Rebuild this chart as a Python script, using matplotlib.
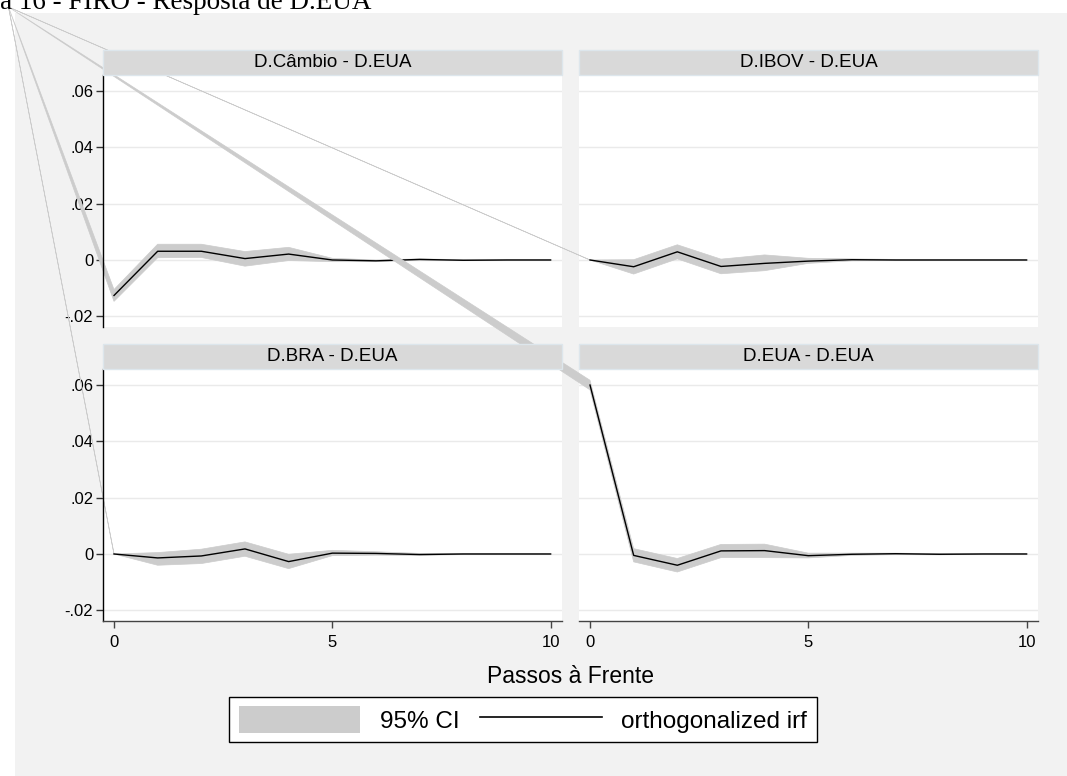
import matplotlib
matplotlib.use("Agg")
import matplotlib.pyplot as plt
from matplotlib.patches import Rectangle, Polygon
from matplotlib.lines import Line2D
import numpy as np

# ---------------- data ----------------
steps = [0, 1, 2, 3, 4, 5, 6, 7, 8, 9, 10]

cambio_irf = [-0.0126, 0.0031, 0.0031, 0.0005, 0.0021, 0.0000, -0.0003, 0.0002, -0.0001, 0.0000, 0.0000]
cambio_lo = [-0.0147, 0.0008, 0.0009, -0.0022, -0.0002, -0.0006, -0.0006, -0.0001, -0.0002, -0.0001, -0.0001]
cambio_hi = [-0.0105, 0.0056, 0.0056, 0.0030, 0.0045, 0.0006, 0.0000, 0.0004, 0.0001, 0.0001, 0.0001]

ibov_irf = [0.0000, -0.0024, 0.0029, -0.0023, -0.0012, -0.0004, 0.0001, 0.0000, 0.0000, 0.0000, 0.0000]
ibov_lo = [0.0000, -0.0050, 0.0004, -0.0049, -0.0038, -0.0012, -0.0003, -0.0002, -0.0001, -0.0001, 0.0000]
ibov_hi = [0.0000, 0.0001, 0.0054, 0.0003, 0.0018, 0.0006, 0.0004, 0.0002, 0.0001, 0.0001, 0.0000]

bra_irf = [0.0000, -0.0014, -0.0007, 0.0018, -0.0027, 0.0003, 0.0002, -0.0002, 0.0000, 0.0000, 0.0000]
bra_lo = [0.0000, -0.0040, -0.0034, -0.0008, -0.0052, -0.0006, -0.0004, -0.0005, -0.0002, -0.0001, 0.0000]
bra_hi = [0.0000, 0.0005, 0.0017, 0.0043, -0.0001, 0.0013, 0.0008, 0.0002, 0.0002, 0.0001, 0.0000]

eua_irf = [0.0600, -0.0005, -0.0040, 0.0011, 0.0012, -0.0006, -0.0001, 0.0001, -0.0001, 0.0000, 0.0000]
eua_lo = [0.0583, -0.0028, -0.0064, -0.0013, -0.0013, -0.0014, -0.0005, -0.0002, -0.0003, -0.0001, -0.0001]
eua_hi = [0.0617, 0.0019, -0.0016, 0.0034, 0.0035, 0.0003, 0.0003, 0.0003, 0.0001, 0.0001, 0.0001]

panel_titles = ["D.Câmbio - D.EUA", "D.IBOV - D.EUA", "D.BRA - D.EUA", "D.EUA - D.EUA"]
ytick_vals = [-0.02, 0, 0.02, 0.04, 0.06]
ytick_labels = ["-.02", "0", ".02", ".04", ".06"]
xtick_vals = [0, 5, 10]
xtick_labels = ["0", "5", "10"]
x_title = "Passos à Frente"
legend_labels = ["95% CI", "orthogonalized irf"]
fig_title = "a 16 - FIRO - Resposta de D.EUA"

series = [
    (cambio_irf, cambio_lo, cambio_hi),
    (ibov_irf, ibov_lo, ibov_hi),
    (bra_irf, bra_lo, bra_hi),
    (eua_irf, eua_lo, eua_hi),
]

# ---------------- style ----------------
W, H = 1067, 776
DPI = 100
BG = "#f2f2f2"
CI_COLOR = "#cccccc"
GRID = "#eaeaea"
STRIP = "#d9d9d9"
STRIP_EDGE = "#dde6ec"
FONT = "Liberation Sans"

plt.rcParams["font.family"] = [FONT, "DejaVu Sans"]

fig = plt.figure(figsize=(W / DPI, H / DPI), dpi=DPI, facecolor="white")

def fx(px):
    return px / W

def fy(py):  # py from top
    return 1 - py / H

# grey outer region
fig.patches.append(Rectangle((fx(15), 0), 1 - fx(15), fy(13), transform=fig.transFigure,
                             facecolor=BG, edgecolor="none", zorder=-10))

# panel geometry in pixels: (left, right), (top, bottom)
cols = [(103, 562), (579, 1038)]
rows = [(75, 327), (369, 621)]
strip_h = 25
ylim = (-0.0238, 0.0657)
xlim = (-0.252, 10.26)

# origin point of the stray CI-outline artifact (pixels from top-left)
artifact_px = (8.5, 7)

axes = []
for i in range(4):
    r, c = divmod(i, 2)
    (l, rr), (t, b) = cols[c], rows[r]
    ax = fig.add_axes([fx(l), fy(b), fx(rr - l), (b - t) / H])
    ax.set_facecolor("white")
    ax.set_xlim(*xlim)
    ax.set_ylim(*ylim)
    ax.set_yticks(ytick_vals)
    ax.set_xticks(xtick_vals)
    ax.grid(axis="y", color=GRID, linewidth=1.0, zorder=0)
    ax.set_axisbelow(True)
    for s in ["top", "right"]:
        ax.spines[s].set_visible(False)
    if c == 0:
        ax.set_yticklabels(ytick_labels, fontsize=12)
        ax.spines["left"].set_color("black")
        ax.spines["left"].set_linewidth(1.0)
        ax.tick_params(axis="y", length=5, width=1.0, color="#333333", pad=2)
    else:
        ax.spines["left"].set_visible(False)
        ax.tick_params(axis="y", length=0, labelleft=False)
    if r == 1:
        ax.set_xticklabels(xtick_labels, fontsize=12)
        ax.spines["bottom"].set_color("#444444")
        ax.spines["bottom"].set_linewidth(1.0)
        ax.tick_params(axis="x", length=5, width=1.0, color="#444444", pad=5)
    else:
        ax.spines["bottom"].set_visible(False)
        ax.tick_params(axis="x", length=0, labelbottom=False)
    axes.append(ax)

for ax, (irf, lo, hi) in zip(axes, series):
    corner = ax.transData.inverted().transform((artifact_px[0], H - artifact_px[1]))
    verts = [tuple(corner)] + list(zip(steps, hi)) + list(zip(steps[::-1], lo[::-1])) + [tuple(corner)]
    ax.add_patch(Polygon(verts, closed=True, facecolor=CI_COLOR, edgecolor=CI_COLOR,
                         linewidth=0.5, clip_on=False, zorder=2))
    ax.plot(steps, irf, color="black", linewidth=1.0, zorder=3)

# strips (drawn on top)
for i, title in enumerate(panel_titles):
    r, c = divmod(i, 2)
    (l, rr), (t, b) = cols[c], rows[r]
    fig.patches.append(Rectangle((fx(l), fy(t)), fx(rr - l), strip_h / H, transform=fig.transFigure,
                                 facecolor=STRIP, edgecolor=STRIP_EDGE, linewidth=1.0, zorder=5))
    fig.text(fx((l + rr) / 2), fy(t - strip_h / 2), title, ha="center", va="center",
             fontsize=13.5, zorder=6)

# x title
fig.text(fx(570.5), fy(683), x_title, ha="center", va="baseline", fontsize=16.5)

# legend
handles = [Rectangle((0, 0), 1, 1, facecolor=CI_COLOR, edgecolor="none"),
           Line2D([], [], color="black", linewidth=1.2)]
leg = fig.legend(handles, legend_labels, loc="center", bbox_to_anchor=(fx(523), fy(719.5)),
                 ncol=2, fontsize=17.5, frameon=True, fancybox=False, edgecolor="black",
                 framealpha=1, handlelength=5.0, handleheight=1.3, handletextpad=0.8,
                 columnspacing=0.85, borderpad=0.4, borderaxespad=0)
leg.get_frame().set_linewidth(1.0)

# title (partially cut, as in the reference)
fig.text(0.0, fy(9), fig_title, ha="left", va="baseline", fontsize=19.5,
         family=["Liberation Serif", "DejaVu Serif"])

fig.savefig("out.png", dpi=DPI, facecolor="white")
